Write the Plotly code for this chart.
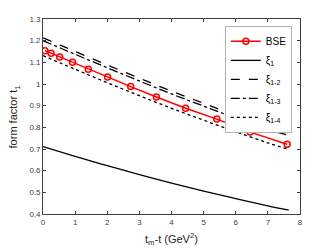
import plotly.graph_objects as go

bse_x = [0.06, 0.25, 0.52, 0.92, 1.41, 2.01, 2.73, 3.53, 4.44, 5.41, 6.45, 7.60]
bse_y = [1.154, 1.142, 1.125, 1.100, 1.068, 1.032, 0.988, 0.940, 0.888, 0.838, 0.778, 0.722]

line_x = [0, 1, 2, 3, 4, 5, 6, 7, 7.65]
xi1 = [0.711, 0.666, 0.623, 0.582, 0.543, 0.506, 0.471, 0.438, 0.418]
xi12 = [1.213, 1.150, 1.088, 1.027, 0.967, 0.911, 0.855, 0.802, 0.778]
xi13 = [1.200, 1.137, 1.075, 1.014, 0.954, 0.898, 0.842, 0.789, 0.763]
xi14 = [1.131, 1.068, 1.006, 0.946, 0.888, 0.833, 0.780, 0.728, 0.698]

y_ticks = [0.4, 0.5, 0.6, 0.7, 0.8, 0.9, 1.0, 1.1, 1.2, 1.3]
y_tick_text = ["0.4", "0.5", "0.6", "0.7", "0.8", "0.9", "1", "1.1", "1.2", "1.3"]
x_ticks = [0, 1, 2, 3, 4, 5, 6, 7, 8]

fig = go.Figure()
fig.add_trace(go.Scatter(x=bse_x, y=bse_y, mode="lines+markers", name="BSE",
                         line=dict(color="#ff0000", width=1.5),
                         marker=dict(symbol="circle-open", size=6, color="#ff0000",
                                     line=dict(width=1.5, color="#ff0000"))))
fig.add_trace(go.Scatter(x=line_x, y=xi1, mode="lines", name="ξ<sub>1</sub>",
                         line=dict(color="black", width=1.3, shape="spline")))
fig.add_trace(go.Scatter(x=line_x, y=xi12, mode="lines", name="ξ<sub>1-2</sub>",
                         line=dict(color="black", width=1.3, dash="dash", shape="spline")))
fig.add_trace(go.Scatter(x=line_x, y=xi13, mode="lines", name="ξ<sub>1-3</sub>",
                         line=dict(color="black", width=1.3, dash="dashdot", shape="spline")))
fig.add_trace(go.Scatter(x=line_x, y=xi14, mode="lines", name="ξ<sub>1-4</sub>",
                         line=dict(color="black", width=1.3, dash="dot", shape="spline")))

axis_common = dict(showline=True, linecolor="#404040", linewidth=0.8, mirror="ticks",
                   ticks="inside", ticklen=3, tickcolor="#404040", showgrid=False,
                   zeroline=False, automargin=False,
                   tickfont=dict(size=8, color="#404040"))

fig.update_layout(
    width=324, height=241,
    margin=dict(l=35, r=32, t=11, b=35),
    paper_bgcolor="white", plot_bgcolor="white",
    font=dict(family="Liberation Sans, Arial, sans-serif", color="#262626"),
    xaxis=dict(range=[0, 8], tickvals=x_ticks, **axis_common),
    yaxis=dict(range=[0.4, 1.3], tickvals=y_ticks, ticktext=y_tick_text, **axis_common),
    legend=dict(x=0.969, y=0.964, xanchor="right", yanchor="top",
                bgcolor="white", bordercolor="#a0a0a0", borderwidth=0.8,
                font=dict(size=10, color="black"), tracegroupgap=0, itemwidth=30),
    showlegend=True,
    annotations=[
        dict(text="t<sub>m</sub>-t (GeV<sup>2</sup>)", xref="paper", yref="paper",
             x=0.5, y=-0.075, xanchor="center", yanchor="top", showarrow=False,
             font=dict(size=11, color="#262626")),
        dict(text="form factor t<sub>1</sub>", xref="paper", yref="paper",
             x=-0.078, y=0.5, xanchor="right", yanchor="middle", textangle=-90,
             showarrow=False, font=dict(size=11, color="#262626")),
    ],
)

fig.write_html("out.html")
